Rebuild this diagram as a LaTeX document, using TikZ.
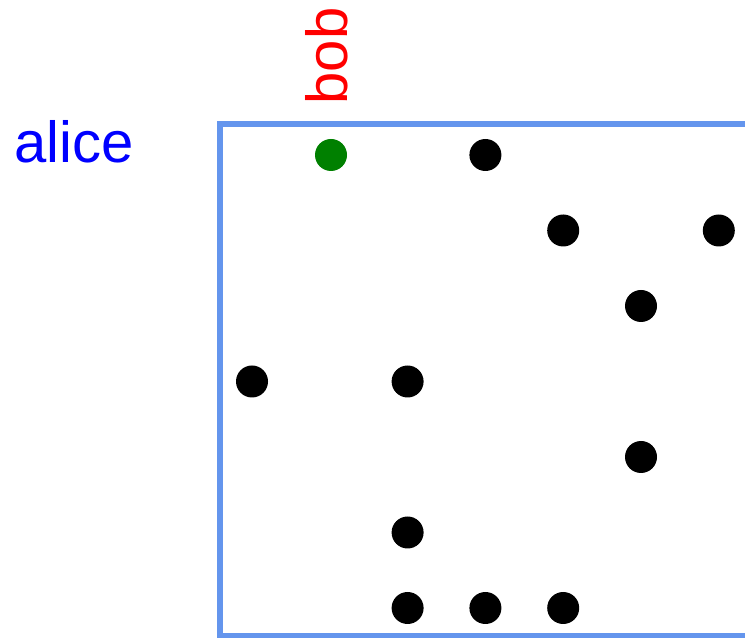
\documentclass[tikz,border=0pt]{standalone}
\usepackage{fontspec}
\setmainfont{Liberation Sans}
\usepackage{xcolor}
\usetikzlibrary{positioning}
\definecolor{frameblue}{RGB}{100,149,237}
\definecolor{dotgreen}{RGB}{0,128,0}

\tikzset{
  dot/.style={circle, fill=black, inner sep=0pt, minimum size=0.64cm},
  lbl/.style={font=\fontsize{33}{40}\selectfont, inner sep=0pt}
}

\begin{document}
\begin{tikzpicture}

% Picture size
\useasboundingbox (0,0) rectangle (14.9,12.76);
\clip (0,0) rectangle (14.9,12.76);

% Frame (right side runs off the picture)
\draw[frameblue, line width=2.9pt] (4.4,0.05) rectangle (15.4,10.28);

% Labels
\node[lbl, blue, anchor=base] (alice) at (1.48,9.5) {alice};
\node[lbl, red, rotate=90, anchor=base] (bob) at (6.94,11.64) {bob};

% Highlighted entry
\node[dot, fill=dotgreen] (d-1-0) at (6.62,9.66) {};

% Entries (column, row)
\foreach \c/\r in {3/0, 4/1, 6/1, 5/2, 0/3, 2/3, 5/4, 2/5, 2/6, 3/6, 4/6}
  \node[dot] (d-\c-\r) at ({5.04+1.556*\c},{9.66-1.51*\r}) {};

\end{tikzpicture}
\end{document}
